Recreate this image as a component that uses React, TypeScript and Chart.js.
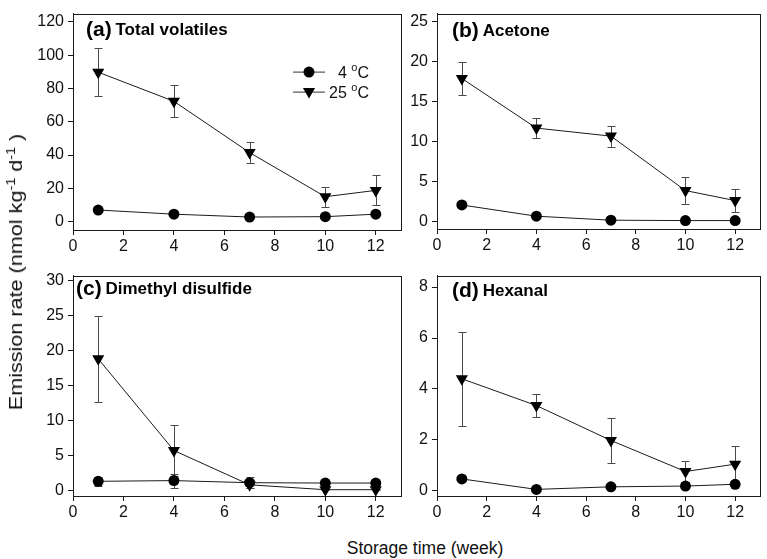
import React, { useEffect, useRef } from 'react';
import { Chart, registerables } from 'chart.js';

Chart.register(...registerables);

// ---------- data ----------
const weeks = [1, 4, 7, 10, 12];
const xTicks = [0, 2, 4, 6, 8, 10, 12];
const seriesLabels = ['4', '25'];

// (a) Total volatiles
const totalCold = [7.0, 4.5, 2.8, 3.0, 4.5];
const totalColdErr = [0.8, 0.6, 0.5, 0.5, 0.7];
const totalWarm = [89.8, 72.3, 41.5, 15.0, 18.8];
const totalWarmErr = [14.5, 9.7, 6.5, 6.0, 9.0];
const totalTicks = [0, 20, 40, 60, 80, 100, 120];

// (b) Acetone
const acetoneCold = [2.1, 0.7, 0.2, 0.15, 0.15];
const acetoneColdErr = [0.2, 0.2, 0.1, 0.05, 0.05];
const acetoneWarm = [17.9, 11.7, 10.7, 3.9, 2.65];
const acetoneWarmErr = [2.1, 1.2, 1.3, 1.7, 1.45];
const acetoneTicks = [0, 5, 10, 15, 20, 25];

// (c) Dimethyl disulfide
const dmdsCold = [1.3, 1.4, 1.1, 1.05, 1.05];
const dmdsColdErr = [0.6, 1.0, 0.75, 0.25, 0.25];
const dmdsWarm = [18.8, 5.7, 0.8, 0.1, 0.1];
const dmdsWarmErr = [6.1, 3.6, 0.4, 0.1, 0.1];
const dmdsTicks = [0, 5, 10, 15, 20, 25, 30];

// (d) Hexanal
const hexCold = [0.47, 0.06, 0.16, 0.19, 0.26];
const hexColdErr = [0.08, 0.03, 0.05, 0.05, 0.05];
const hexWarm = [4.4, 3.35, 1.98, 0.76, 1.05];
const hexWarmErr = [1.85, 0.46, 0.9, 0.4, 0.7];
const hexTicks = [0, 2, 4, 6, 8];

// ---------- layout / style ----------
const FONT = '"Liberation Sans", Arial, Helvetica, sans-serif';
const INK = '#1a1a1a';

type PanelDef = {
  tag: string;
  name: string;
  cold: number[];
  coldErr: number[];
  warm: number[];
  warmErr: number[];
  yTicks: number[];
  yMin: number;
  yMax: number;
  canvas: [number, number, number, number]; // left, top, width, height
  area: [number, number, number, number]; // left, top, right, bottom
  titleDx: number;
  titleDy: number;
  legend: boolean;
};

const panels: PanelDef[] = [
  {
    tag: '(a)', name: 'Total volatiles',
    cold: totalCold, coldErr: totalColdErr, warm: totalWarm, warmErr: totalWarmErr,
    yTicks: totalTicks, yMin: -5, yMax: 125,
    canvas: [0, 0, 410, 262], area: [73, 2, 401, 230],
    titleDx: 13, titleDy: 21, legend: true,
  },
  {
    tag: '(b)', name: 'Acetone',
    cold: acetoneCold, coldErr: acetoneColdErr, warm: acetoneWarm, warmErr: acetoneWarmErr,
    yTicks: acetoneTicks, yMin: -0.9, yMax: 26,
    canvas: [410, 0, 357, 262], area: [437, 3, 764, 229],
    titleDx: 15, titleDy: 22, legend: false,
  },
  {
    tag: '(c)', name: 'Dimethyl disulfide',
    cold: dmdsCold, coldErr: dmdsColdErr, warm: dmdsWarm, warmErr: dmdsWarmErr,
    yTicks: dmdsTicks, yMin: -0.8, yMax: 30.7,
    canvas: [0, 262, 410, 272], area: [73, 268, 401, 496],
    titleDx: 3, titleDy: 18, legend: false,
  },
  {
    tag: '(d)', name: 'Hexanal',
    cold: hexCold, coldErr: hexColdErr, warm: hexWarm, warmErr: hexWarmErr,
    yTicks: hexTicks, yMin: -0.2, yMax: 8.45,
    canvas: [410, 262, 357, 272], area: [437, 268, 764, 496],
    titleDx: 15, titleDy: 20, legend: false,
  },
];

// ---------- plugins ----------
const errorBarPlugin = {
  id: 'errorBars',
  beforeDatasetsDraw(chart: any) {
    const ctx = chart.ctx;
    const yScale = chart.scales.y;
    chart.data.datasets.forEach((ds: any, di: number) => {
      const errs: number[] | undefined = ds.errors;
      if (!errs) return;
      const meta = chart.getDatasetMeta(di);
      ctx.save();
      ctx.strokeStyle = '#4a4a4a';
      ctx.lineWidth = 1;
      meta.data.forEach((pt: any, i: number) => {
        const v = ds.data[i].y;
        const e = errs[i];
        const x = Math.round(pt.x) + 0.5;
        const yt = Math.round(yScale.getPixelForValue(v + e)) + 0.5;
        const yb = Math.round(yScale.getPixelForValue(v - e)) + 0.5;
        ctx.beginPath();
        ctx.moveTo(x, yt);
        ctx.lineTo(x, yb);
        ctx.moveTo(x - 4, yt);
        ctx.lineTo(x + 4, yt);
        ctx.moveTo(x - 4, yb);
        ctx.lineTo(x + 4, yb);
        ctx.stroke();
      });
      ctx.restore();
    });
  },
};

const framePlugin = {
  id: 'frame',
  beforeDatasetsDraw(chart: any) {
    const { left, top, right, bottom } = chart.chartArea;
    const ctx = chart.ctx;
    ctx.save();
    ctx.strokeStyle = INK;
    ctx.lineWidth = 1;
    ctx.strokeRect(Math.round(left) + 0.5, Math.round(top) + 0.5, Math.round(right - left), Math.round(bottom - top));
    ctx.restore();
  },
};

function drawDegreeLabel(ctx: CanvasRenderingContext2D, num: string, rightX: number, y: number) {
  ctx.font = `16px ${FONT}`;
  const wNum = ctx.measureText(num + ' ').width;
  const wC = ctx.measureText('C').width;
  ctx.font = `11px ${FONT}`;
  const wO = ctx.measureText('o').width;
  const start = rightX - (wNum + wO + wC);
  ctx.textBaseline = 'alphabetic';
  ctx.textAlign = 'left';
  ctx.font = `16px ${FONT}`;
  ctx.fillText(num + ' ', start, y);
  ctx.font = `11px ${FONT}`;
  ctx.fillText('o', start + wNum, y - 7);
  ctx.font = `16px ${FONT}`;
  ctx.fillText('C', start + wNum + wO, y);
}

function makeTitlePlugin(p: PanelDef) {
  return {
    id: 'panelTitle',
    afterDraw(chart: any) {
      const ctx = chart.ctx;
      const { left, top } = chart.chartArea;
      ctx.save();
      ctx.fillStyle = '#000';
      ctx.textBaseline = 'alphabetic';
      ctx.textAlign = 'left';
      const x = left + p.titleDx;
      const y = top + p.titleDy;
      ctx.font = `bold 21px ${FONT}`;
      ctx.fillText(p.tag, x, y + 1);
      const w = ctx.measureText(p.tag + ' ').width;
      ctx.font = `bold 17px ${FONT}`;
      ctx.fillText(p.name, x + w - 2, y);

      if (p.legend) {
        const lx0 = left + 220;
        const lx1 = left + 252;
        const mx = (lx0 + lx1) / 2;
        const rows = [top + 58, top + 78];
        ctx.strokeStyle = '#333';
        ctx.lineWidth = 1;
        rows.forEach((ry, i) => {
          ctx.beginPath();
          ctx.moveTo(lx0, ry + 0.5);
          ctx.lineTo(lx1, ry + 0.5);
          ctx.stroke();
          ctx.fillStyle = '#000';
          ctx.beginPath();
          if (i === 0) {
            ctx.arc(mx, ry + 0.5, 5.5, 0, Math.PI * 2);
          } else {
            const r = 7;
            ctx.moveTo(mx, ry + r);
            ctx.lineTo(mx - r * 0.866, ry - r / 2);
            ctx.lineTo(mx + r * 0.866, ry - r / 2);
            ctx.closePath();
          }
          ctx.fill();
          ctx.fillStyle = '#111';
          drawDegreeLabel(ctx, seriesLabels[i], left + 296, ry + 6);
        });
      }
      ctx.restore();
    },
  };
}

function makeConfig(p: PanelDef): any {
  const [cl, ct, cw, ch] = p.canvas;
  const [al, at, ar, ab] = p.area;
  const padTop = at - ct;
  const padRight = cl + cw - ar;
  const yW = al - cl;
  const xH = ct + ch - ab;
  const tickFont = { family: FONT, size: 16 };
  const axisCommon = {
    grid: { display: true, drawOnChartArea: false, drawTicks: true, tickLength: 5, color: INK, lineWidth: 1 },
    border: { display: true, color: INK, width: 1 },
  };
  return {
    type: 'line',
    data: {
      datasets: [
        {
          label: seriesLabels[0] + ' °C',
          data: weeks.map((w, i) => ({ x: w, y: p.cold[i] })),
          errors: p.coldErr,
          borderColor: INK,
          borderWidth: 1,
          tension: 0,
          pointStyle: 'circle',
          pointRadius: 5.5,
          pointBackgroundColor: '#000',
          pointBorderColor: '#000',
          pointBorderWidth: 0,
          clip: false,
        },
        {
          label: seriesLabels[1] + ' °C',
          data: weeks.map((w, i) => ({ x: w, y: p.warm[i] })),
          errors: p.warmErr,
          borderColor: INK,
          borderWidth: 1,
          tension: 0,
          pointStyle: 'triangle',
          rotation: 180,
          pointRotation: 180,
          pointRadius: 7,
          pointBackgroundColor: '#000',
          pointBorderColor: '#000',
          pointBorderWidth: 0,
          clip: false,
        },
      ],
    },
    options: {
      animation: false,
      responsive: false,
      devicePixelRatio: 1,
      events: [],
      layout: { padding: { top: padTop, right: padRight, left: 0, bottom: 0 } },
      plugins: { legend: { display: false }, tooltip: { enabled: false }, title: { display: false } },
      scales: {
        x: {
          type: 'linear',
          min: 0,
          max: 13,
          afterBuildTicks: (s: any) => { s.ticks = xTicks.map((v) => ({ value: v })); },
          afterFit: (s: any) => { s.height = xH; },
          ticks: { font: tickFont, color: '#111', padding: 2, maxRotation: 0, autoSkip: false },
          ...axisCommon,
        },
        y: {
          type: 'linear',
          min: p.yMin,
          max: p.yMax,
          afterBuildTicks: (s: any) => { s.ticks = p.yTicks.map((v) => ({ value: v })); },
          afterFit: (s: any) => { s.width = yW; },
          ticks: { font: tickFont, color: '#111', padding: 4, autoSkip: false },
          ...axisCommon,
        },
      },
    },
    plugins: [framePlugin, errorBarPlugin, makeTitlePlugin(p)],
  };
}

function PanelCanvas({ p }: { p: PanelDef }) {
  const ref = useRef<HTMLCanvasElement | null>(null);
  useEffect(() => {
    if (!ref.current) return;
    const chart = new Chart(ref.current, makeConfig(p));
    return () => chart.destroy();
  }, [p]);
  const [l, t, w, h] = p.canvas;
  return (
    <canvas
      ref={ref}
      width={w}
      height={h}
      style={{ position: 'absolute', left: l, top: t, width: w, height: h }}
    />
  );
}

const supStyle: React.CSSProperties = { fontSize: 12, verticalAlign: 'super', lineHeight: 0 };

export default function App() {
  return (
    <div
      style={{
        position: 'absolute',
        left: 0,
        top: 0,
        width: 767,
        height: 559,
        background: '#fff',
        fontFamily: FONT,
        color: '#111',
        overflow: 'hidden',
      }}
    >
      {panels.map((p) => (
        <PanelCanvas key={p.tag} p={p} />
      ))}
      <div
        style={{
          position: 'absolute',
          left: 16,
          top: 272,
          transform: 'translate(-50%, -50%) rotate(-90deg) scale(1.2, 1)',
          whiteSpace: 'nowrap',
          fontSize: 18,
          lineHeight: '20px',
        }}
      >
        Emission rate (nmol kg<sup style={supStyle}>-1</sup> d<sup style={supStyle}>-1</sup> )
      </div>
      <div
        style={{
          position: 'absolute',
          left: 425,
          top: 548,
          transform: 'translate(-50%, -50%)',
          whiteSpace: 'nowrap',
          fontSize: 17.5,
          lineHeight: '20px',
        }}
      >
        Storage time (week)
      </div>
    </div>
  );
}
